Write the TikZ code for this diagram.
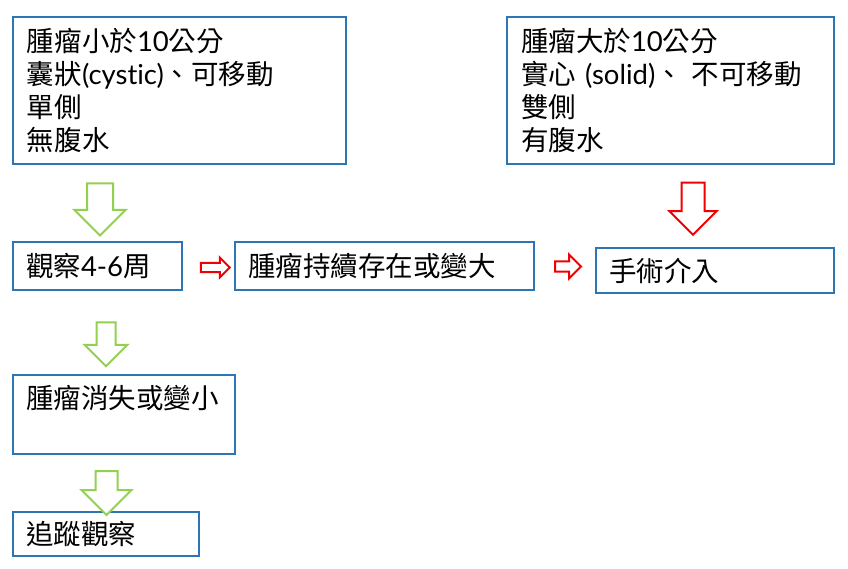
\documentclass[tikz,border=0pt]{standalone}
\usepackage{fontspec}
\setmainfont{Noto Sans CJK TC}
\newfontfamily\latinfont[Ligatures=NoCommon]{Lato}
\newcommand{\lat}[1]{{\latinfont #1}}
\usetikzlibrary{shapes.arrows}
\definecolor{boxblue}{RGB}{46,117,182}
\definecolor{arrgreen}{RGB}{146,208,80}
\definecolor{arrred}{RGB}{240,0,0}

\begin{document}
\begin{tikzpicture}[x=1pt, y=-1pt, font=\fontsize{27.5}{33}\selectfont]
    \tikzset{
      box/.style={draw=boxblue, line width=2pt, anchor=north west, outer sep=0pt,
                  inner xsep=13pt, inner ysep=0pt, align=left},
      blockarr/.style={single arrow, line width=2pt, fill=white},
      downarr/.style={blockarr, shape border rotate=270},
    }
    \useasboundingbox (0,0) rectangle (848,569);

    % boxes
    \node[box, text width=305pt, minimum width=333pt, minimum height=147pt] (small) at (13,17)
      {腫瘤小於\lat{10}公分\\囊狀\lat{(cystic)}、可移動\\單側\\無腹水};
    \node[box, text width=299pt, minimum width=327pt, minimum height=147pt] (large) at (507,17)
      {腫瘤大於\lat{10}公分\\實心 \lat{(solid)}、 不可移動\\雙側\\有腹水};
    \node[box, text width=143pt, minimum width=169pt, minimum height=48pt] (watch) at (13,242)
      {觀察\lat{4-6}周};
    \node[box, text width=273pt, minimum width=299pt, minimum height=48pt] (persist) at (235,242)
      {腫瘤持續存在或變大};
    \node[box, text width=212pt, minimum width=238pt, minimum height=45pt] (surgery) at (596,248)
      {手術介入};
    \node[box, text width=196pt, minimum width=222pt, text height=33pt, text depth=46pt] (shrink) at (13,375)
      {腫瘤消失或變小};
    \node[box, text width=160pt, minimum width=186pt, minimum height=44pt] (follow) at (13,512)
      {追蹤觀察};

    % block arrows
    \node[downarr, draw=arrgreen, inner sep=12pt, single arrow head extend=12.5pt,
          minimum height=52pt] (g1) at (100,203) {};
    \node[downarr, draw=arrred, inner sep=10.5pt, single arrow head extend=12pt,
          minimum height=52pt] (r1) at (693,203) {};
    \node[downarr, draw=arrgreen, inner sep=8.5pt, single arrow head extend=12pt,
          minimum height=44pt] (g2) at (106,339.5) {};
    \node[downarr, draw=arrgreen, inner sep=10pt, single arrow head extend=14pt,
          minimum height=44pt] (g3) at (106.5,487.5) {};
    \node[blockarr, draw=arrred, inner sep=3.5pt, single arrow head extend=5.5pt,
          minimum height=29pt] (r2) at (213,267.5) {};
    \node[blockarr, draw=arrred, inner sep=4pt, single arrow head extend=7pt,
          minimum height=26pt] (r3) at (565.5,266.5) {};
  \end{tikzpicture}
\end{document}
